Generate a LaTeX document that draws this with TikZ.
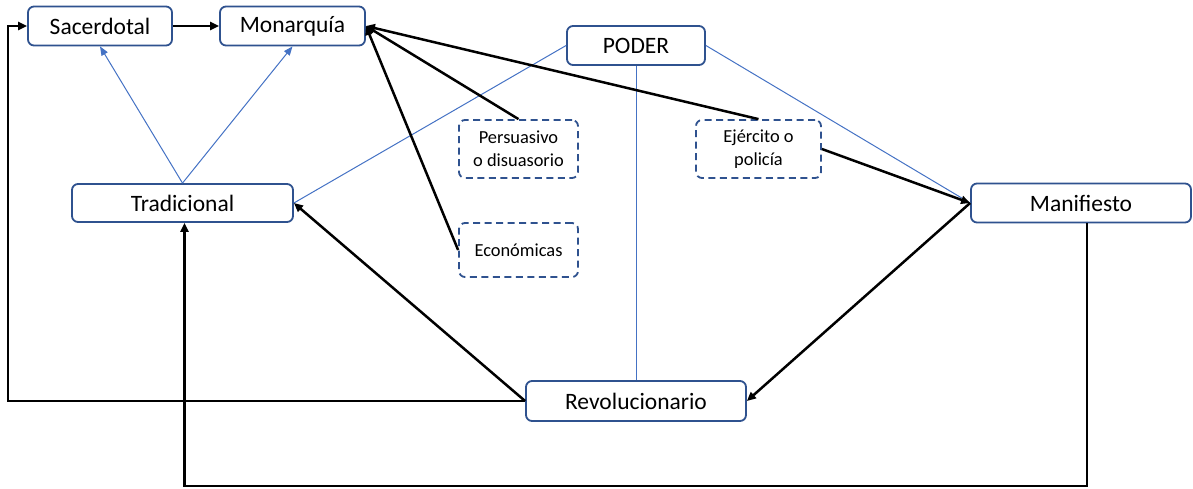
\documentclass[tikz,border=0pt]{standalone}
\usepackage{fontspec}
\setmainfont{Carlito}
\usetikzlibrary{arrows.meta}
\definecolor{boxblue}{HTML}{2F528F}
\definecolor{lineblue}{HTML}{4472C4}
\begin{document}
\begin{tikzpicture}[x=1pt,y=-1pt,
  box/.style={draw=boxblue, line width=1.8pt, rounded corners=6pt, fill=white, inner sep=0pt,
    font=\fontsize{23.5}{28}\selectfont},
  dbox/.style={box, dash pattern=on 7pt off 4.5pt, align=center,
    font=\fontsize{18.4}{23}\selectfont},
  blk/.style={line width=2.5pt, -{Triangle[length=9pt,width=8pt]}},
  blu/.style={draw=lineblue, line width=1pt},
  bluarr/.style={blu, -{Triangle[length=9pt,width=7pt]}}
]
\useasboundingbox (0,0) rectangle (1193,488);
\node[box, minimum width=144pt, minimum height=39pt] (sac) at (100,26) {Sacerdotal};
\node[box, minimum width=145pt, minimum height=39pt] (mon) at (292.5,26) {Monarquía};
\node[box, minimum width=138pt, minimum height=39pt] (pod) at (636,45.5) {PODER};
\node[dbox, minimum width=119pt, minimum height=58pt] (per) at (518.5,149) {Persuasivo\\o disuasorio};
\node[dbox, minimum width=125pt, minimum height=58pt] (eje) at (758.5,149) {Ejército o\\policía};
\node[dbox, minimum width=119pt, minimum height=54pt] (eco) at (518.5,250) {Económicas};
\node[box, minimum width=221pt, minimum height=38pt] (tra) at (182.5,203) {Tradicional};
\node[box, minimum width=220pt, minimum height=39pt] (man) at (1081,203) {Manifiesto};
\node[box, minimum width=220pt, minimum height=40pt] (rev) at (636,401) {Revolucionario};
\coordinate (lft) at (8,401);
\coordinate (bot) at (1087,486);
% blue thin
\draw[bluarr] (tra.north) -- (sac.south);
\draw[bluarr] (tra.north) -- (mon.south);
\draw[blu] (pod.west) -- (tra.east);
\draw[blu] (pod.east) -- (man.west);
\draw[blu] (pod.south) -- (rev.north);
% black
\draw[blk] (sac.east) -- (mon.west);
\draw[blk] (per.north) -- (mon.east);
\draw[blk] (eje.north) -- (mon.east);
\draw[blk] (eco.west) -- (mon.east);
\draw[blk] (eje.east) -- (man.west);
\draw[blk] (man.west) -- (rev.east);
\draw[blk] (rev.west) -- (tra.east);
\draw[blk] (rev.west) -- (lft) |- (sac.west);
\draw[blk] ([xshift=6pt]man.south) -- ([xshift=6pt]man.south |- bot) -| ([xshift=2pt]tra.south);
\end{tikzpicture}
\end{document}
